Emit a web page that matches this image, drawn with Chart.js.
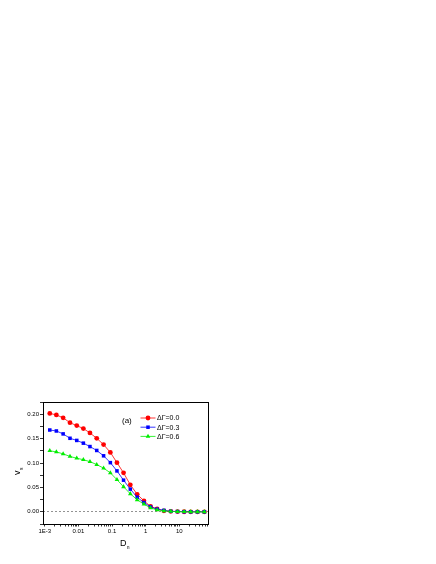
<!DOCTYPE html>
<html>
<head>
<meta charset="utf-8">
<script src="https://cdn.jsdelivr.net/npm/chart.js@4.4.0/dist/chart.umd.min.js"></script>
<style>
  body { margin: 0; background: #fff; }
</style>
</head>
<body>
<canvas id="va" width="436" height="564"></canvas>
<script>
// Data (a)
const dValues = [0.0014, 0.0022, 0.0035, 0.0056, 0.0089, 0.014, 0.022, 0.035, 0.056, 0.089,
  0.14, 0.22, 0.35, 0.56, 0.89, 1.4, 2.2, 3.5, 5.6, 8.9, 14, 22, 35, 56];
const v00 = [0.202, 0.199, 0.193, 0.183, 0.177, 0.171, 0.162, 0.151, 0.138, 0.122,
  0.101, 0.080, 0.0555, 0.036, 0.0226, 0.011, 0.006, 0.002, 0.001, 0.0005, 0.0002, 0, 0, 0];
const v03 = [0.168, 0.166, 0.160, 0.151, 0.1466, 0.141, 0.134, 0.126, 0.115, 0.101,
  0.084, 0.065, 0.0466, 0.030, 0.019, 0.010, 0.0055, 0.003, 0.001, 0.0005, 0.0002, 0, 0, 0];
const v06 = [0.1254, 0.123, 0.119, 0.1137, 0.110, 0.107, 0.103, 0.097, 0.0897, 0.080,
  0.066, 0.0514, 0.037, 0.0247, 0.0158, 0.008, 0.004, 0.002, 0.001, 0.0005, 0.0002, 0, 0, 0];
const seriesLabels = ["\u0394\u0393=0.0", "\u0394\u0393=0.3", "\u0394\u0393=0.6"];
const xTickValues = [0.001, 0.01, 0.1, 1, 10];
const xTickLabels = ["1E-3", "0.01", "0.1", "1", "10"];
const yTickValues = [0, 0.05, 0.1, 0.15, 0.2];
const yTickLabels = ["0.00", "0.05", "0.10", "0.15", "0.20"];

function pts(ys) {
  return dValues.map((x, i) => ({ x: x, y: ys[i] }));
}

const FONT = "'Liberation Sans', Arial, sans-serif";

// frame, panel label, legend and axis titles
const extras = {
  id: "extras",
  afterDatasetsDraw(chart) {
    const ctx = chart.ctx;
    const a = chart.chartArea;
    ctx.save();
    ctx.strokeStyle = "#000";
    ctx.lineWidth = 1;
    ctx.strokeRect(a.left + 0.5, a.top + 0.5, a.right - a.left - 1, a.bottom - a.top);

    ctx.fillStyle = "#000";
    ctx.font = "8px " + FONT;
    ctx.textBaseline = "middle";
    ctx.textAlign = "left";
    ctx.fillText("(a)", a.left + 79, a.top + 18.5);

    // legend
    ctx.font = "7px " + FONT;
    chart.data.datasets.forEach((ds, i) => {
      const y = a.top + 16 + i * 9.2;
      const x0 = a.left + 97.5;
      ctx.strokeStyle = ds.borderColor;
      ctx.lineWidth = 0.8;
      ctx.beginPath();
      ctx.moveTo(x0, y);
      ctx.lineTo(x0 + 15, y);
      ctx.stroke();
      ctx.fillStyle = ds.backgroundColor;
      Chart.helpers.drawPoint(ctx, { pointStyle: ds.pointStyle, radius: ds.pointRadius, borderWidth: 0 }, x0 + 7.5, y);
      ctx.fillStyle = "#000";
      ctx.fillText(ds.label, x0 + 16.5, y + 0.5);
    });

    // axis titles
    ctx.fillStyle = "#000";
    ctx.font = "9px " + FONT;
    ctx.textAlign = "left";
    ctx.fillText("D", 120, 543.5);
    ctx.font = "5px " + FONT;
    ctx.fillText("n", 126.8, 547.5);

    ctx.translate(18, 473);
    ctx.rotate(-Math.PI / 2);
    ctx.font = "9px " + FONT;
    ctx.fillText("v", -2, 0);
    ctx.font = "5px " + FONT;
    ctx.fillText("s", 3, 3.5);
    ctx.restore();
  }
};

new Chart(document.getElementById("va").getContext("2d"), {
  type: "line",
  data: {
    datasets: [
      {
        label: seriesLabels[0],
        data: pts(v00),
        borderColor: "#ff0000",
        backgroundColor: "#ff0000",
        pointStyle: "circle",
        pointRadius: 2.4,
        borderWidth: 0.8,
        pointBorderWidth: 0,
        order: 3,
      },
      {
        label: seriesLabels[1],
        data: pts(v03),
        borderColor: "#0000ff",
        backgroundColor: "#0000ff",
        pointStyle: "rect",
        pointRadius: 2.5,
        borderWidth: 0.8,
        pointBorderWidth: 0,
        order: 2,
      },
      {
        label: seriesLabels[2],
        data: pts(v06),
        borderColor: "#00ee00",
        backgroundColor: "#00ee00",
        pointStyle: "triangle",
        pointRadius: 2.7,
        borderWidth: 0.8,
        pointBorderWidth: 0,
        order: 1,
      },
    ],
  },
  options: {
    responsive: false,
    animation: false,
    layout: { padding: { left: 0, right: 227, top: 402, bottom: 20 } },
    plugins: {
      legend: { display: false },
      tooltip: { enabled: false },
    },
    scales: {
      x: {
        type: "logarithmic",
        min: 0.00088,
        max: 77,
        afterFit(scale) { scale.height = 20; },
        afterBuildTicks(scale) {
          const t = [];
          for (let e = -3; e <= 1; e++) {
            for (let m = 1; m <= 9; m++) {
              const v = m * Math.pow(10, e);
              if (v >= scale.min && v <= scale.max) t.push({ value: v });
            }
          }
          scale.ticks = t;
        },
        ticks: {
          autoSkip: false,
          maxRotation: 0,
          padding: 1,
          color: "#000",
          font: { family: FONT, size: 6 },
          callback(value) {
            const k = xTickValues.findIndex((v) => Math.abs(v - value) / v < 1e-6);
            return k >= 0 ? xTickLabels[k] : "";
          },
        },
        grid: {
          display: true,
          drawOnChartArea: false,
          tickLength: 2.5,
          tickColor: "#000",
          tickWidth: 0.8,
        },
        border: { display: false },
      },
      y: {
        min: -0.025,
        max: 0.2255,
        afterFit(scale) { scale.width = 43; },
        afterBuildTicks(scale) {
          const t = [];
          for (let k = -1; k <= 9; k++) t.push({ value: k * 0.025 });
          scale.ticks = t;
        },
        ticks: {
          padding: 1,
          color: "#000",
          font: { family: FONT, size: 6 },
          callback(value) {
            const k = yTickValues.findIndex((v) => Math.abs(v - value) < 1e-6);
            return k >= 0 ? yTickLabels[k] : "";
          },
        },
        grid: {
          drawOnChartArea: true,
          tickLength: 3,
          tickColor: "#000",
          tickWidth: 0.8,
          lineWidth: 0.8,
          color(c) {
            return c.tick && Math.abs(c.tick.value) < 1e-6 ? "#777" : "rgba(0,0,0,0)";
          },
        },
        border: { display: false, dash: [2, 2] },
      },
    },
  },
  plugins: [extras],
});
</script>
</body>
</html>
